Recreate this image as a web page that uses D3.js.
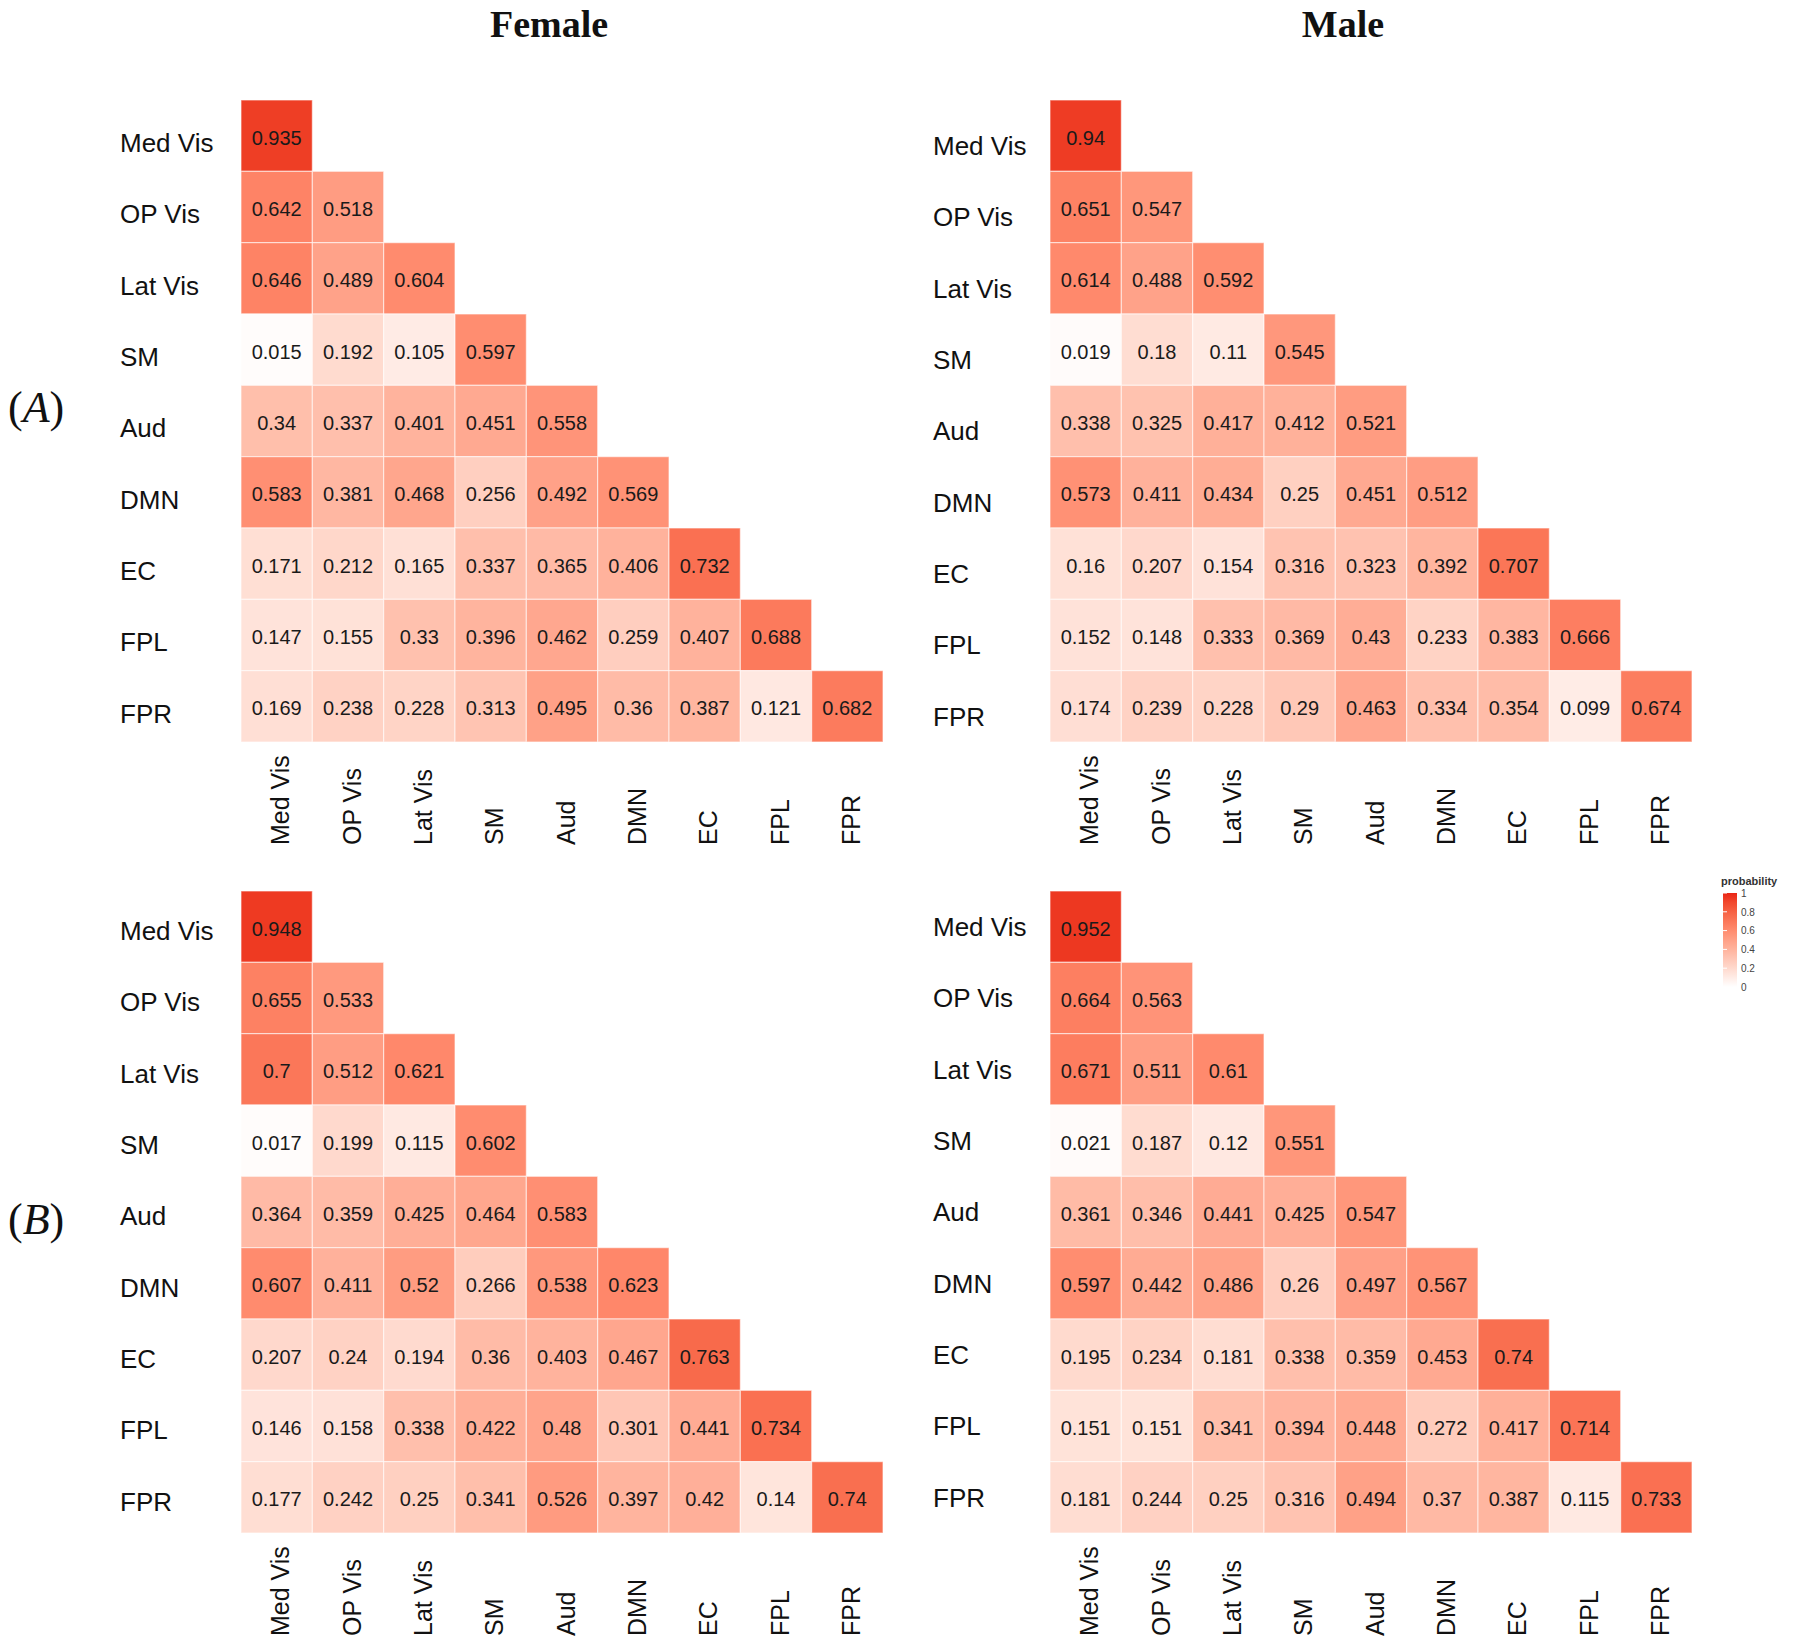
<!DOCTYPE html>
<html>
<head>
<meta charset="utf-8">
<script src="https://cdn.jsdelivr.net/npm/d3@7"></script>
<style>
  body { margin: 0; background: #fff; }
  svg { display: block; }
</style>
</head>
<body>
<script>
var width = 1800, height = 1641;

var networks = ["Med Vis", "OP Vis", "Lat Vis", "SM", "Aud", "DMN", "EC", "FPL", "FPR"];

// lower triangle, row by row (row i has i+1 values)
var femaleA = [
  [0.935],
  [0.642, 0.518],
  [0.646, 0.489, 0.604],
  [0.015, 0.192, 0.105, 0.597],
  [0.34, 0.337, 0.401, 0.451, 0.558],
  [0.583, 0.381, 0.468, 0.256, 0.492, 0.569],
  [0.171, 0.212, 0.165, 0.337, 0.365, 0.406, 0.732],
  [0.147, 0.155, 0.33, 0.396, 0.462, 0.259, 0.407, 0.688],
  [0.169, 0.238, 0.228, 0.313, 0.495, 0.36, 0.387, 0.121, 0.682]
];

var maleA = [
  [0.94],
  [0.651, 0.547],
  [0.614, 0.488, 0.592],
  [0.019, 0.18, 0.11, 0.545],
  [0.338, 0.325, 0.417, 0.412, 0.521],
  [0.573, 0.411, 0.434, 0.25, 0.451, 0.512],
  [0.16, 0.207, 0.154, 0.316, 0.323, 0.392, 0.707],
  [0.152, 0.148, 0.333, 0.369, 0.43, 0.233, 0.383, 0.666],
  [0.174, 0.239, 0.228, 0.29, 0.463, 0.334, 0.354, 0.099, 0.674]
];

var femaleB = [
  [0.948],
  [0.655, 0.533],
  [0.7, 0.512, 0.621],
  [0.017, 0.199, 0.115, 0.602],
  [0.364, 0.359, 0.425, 0.464, 0.583],
  [0.607, 0.411, 0.52, 0.266, 0.538, 0.623],
  [0.207, 0.24, 0.194, 0.36, 0.403, 0.467, 0.763],
  [0.146, 0.158, 0.338, 0.422, 0.48, 0.301, 0.441, 0.734],
  [0.177, 0.242, 0.25, 0.341, 0.526, 0.397, 0.42, 0.14, 0.74]
];

var maleB = [
  [0.952],
  [0.664, 0.563],
  [0.671, 0.511, 0.61],
  [0.021, 0.187, 0.12, 0.551],
  [0.361, 0.346, 0.441, 0.425, 0.547],
  [0.597, 0.442, 0.486, 0.26, 0.497, 0.567],
  [0.195, 0.234, 0.181, 0.338, 0.359, 0.453, 0.74],
  [0.151, 0.151, 0.341, 0.394, 0.448, 0.272, 0.417, 0.714],
  [0.181, 0.244, 0.25, 0.316, 0.494, 0.37, 0.387, 0.115, 0.733]
];

var columnTitles = ["Female", "Male"];
var rowTitles = ["A", "B"];
var legendTicks = [0, 0.2, 0.4, 0.6, 0.8, 1];

var svg = d3.select("body").append("svg")
    .attr("width", width)
    .attr("height", height);

var color = d3.scaleLinear()
    .domain([0, 1])
    .range(["#ffffff", "#ea2616"])
    .interpolate(d3.interpolateLab);

var gridSize = 642;

var panels = [
  {values: femaleA, x: 241, y: 100, labelX: 120, labelDy: 8},
  {values: maleA, x: 1050, y: 100, labelX: 933, labelDy: 11},
  {values: femaleB, x: 241, y: 891, labelX: 120, labelDy: 5},
  {values: maleB, x: 1050, y: 891, labelX: 933, labelDy: 1}
];

panels.forEach(function(p) {
    var x = d3.scaleBand().domain(networks).range([0, gridSize]);
    var y = d3.scaleBand().domain(networks).range([0, gridSize]);

    var g = svg.append("g")
        .attr("transform", "translate(" + p.x + "," + p.y + ")");

    var cells = [];
    p.values.forEach(function(row, i) {
        row.forEach(function(v, j) {
            cells.push({row: networks[i], col: networks[j], value: v});
        });
    });

    g.selectAll(".cell")
        .data(cells)
        .enter()
        .append("rect")
        .attr("class", "cell")
        .attr("x", function(d) { return x(d.col); })
        .attr("y", function(d) { return y(d.row); })
        .attr("width", x.bandwidth())
        .attr("height", y.bandwidth())
        .attr("fill", function(d) { return color(d.value); })
        .attr("stroke", "rgba(255,255,255,0.55)")
        .attr("stroke-width", 1.2);

    g.selectAll(".val")
        .data(cells)
        .enter()
        .append("text")
        .attr("class", "val")
        .attr("x", function(d) { return x(d.col) + x.bandwidth() / 2; })
        .attr("y", function(d) { return y(d.row) + y.bandwidth() / 2 + 2; })
        .attr("dy", "0.35em")
        .attr("text-anchor", "middle")
        .style("font-family", "'Liberation Sans', Arial, sans-serif")
        .style("font-size", "20px")
        .style("fill", "#1a1a1a")
        .text(function(d) { return String(d.value); });

    // row labels (left aligned)
    var yAxis = g.append("g")
        .call(d3.axisLeft(y).tickSize(0).tickPadding(0));
    yAxis.select(".domain").remove();
    yAxis.selectAll("text")
        .attr("x", p.labelX - p.x)
        .attr("y", p.labelDy)
        .attr("text-anchor", "start")
        .style("font-family", "'Liberation Sans', Arial, sans-serif")
        .style("font-size", "26px")
        .style("fill", "#111");

    // column labels (vertical)
    var xAxis = g.append("g")
        .attr("transform", "translate(0," + gridSize + ")")
        .call(d3.axisBottom(x).tickSize(0).tickPadding(0));
    xAxis.select(".domain").remove();
    xAxis.selectAll("text")
        .attr("x", 0)
        .attr("y", 0)
        .attr("dy", "0.35em")
        .attr("transform", "translate(4,103) rotate(-90)")
        .attr("text-anchor", "start")
        .style("font-family", "'Liberation Sans', Arial, sans-serif")
        .style("font-size", "25px")
        .style("fill", "#111");
});

// column titles
svg.selectAll(".coltitle")
    .data(columnTitles)
    .enter()
    .append("text")
    .attr("class", "coltitle")
    .attr("x", function(d, i) { return i === 0 ? 549 : 1343; })
    .attr("y", 37)
    .attr("text-anchor", "middle")
    .style("font-family", "'Liberation Serif', 'Times New Roman', serif")
    .style("font-weight", "bold")
    .style("font-size", "38px")
    .style("fill", "#111")
    .text(function(d) { return d; });

// (A) / (B) row tags
var tags = svg.selectAll(".rowtag")
    .data(rowTitles)
    .enter()
    .append("text")
    .attr("class", "rowtag")
    .attr("x", 8)
    .attr("y", function(d, i) { return i === 0 ? 422 : 1234; })
    .style("font-family", "'Liberation Serif', 'Times New Roman', serif")
    .style("font-size", "44px")
    .style("fill", "#111");
tags.append("tspan").text("(");
tags.append("tspan").style("font-style", "italic").text(function(d) { return d; });
tags.append("tspan").text(")");

// legend
var legendScale = d3.scaleLinear().domain([0, 1]).range([987, 893]);
var defs = svg.append("defs");
var grad = defs.append("linearGradient")
    .attr("id", "probgrad")
    .attr("x1", 0).attr("y1", 1).attr("x2", 0).attr("y2", 0);
d3.range(0, 1.0001, 0.1).forEach(function(t) {
    grad.append("stop")
        .attr("offset", t)
        .attr("stop-color", color(t));
});

var legend = svg.append("g");
legend.append("text")
    .attr("x", 1721)
    .attr("y", 885)
    .style("font-family", "'Liberation Sans', Arial, sans-serif")
    .style("font-size", "11px")
    .style("font-weight", "bold")
    .style("fill", "#333")
    .text("probability");

legend.append("rect")
    .attr("x", 1723)
    .attr("y", legendScale(1))
    .attr("width", 14)
    .attr("height", legendScale(0) - legendScale(1))
    .attr("fill", "url(#probgrad)");

legend.selectAll(".ltick")
    .data(legendTicks)
    .enter()
    .append("line")
    .attr("class", "ltick")
    .attr("x1", 1723).attr("x2", 1727)
    .attr("y1", function(d) { return legendScale(d); })
    .attr("y2", function(d) { return legendScale(d); })
    .attr("stroke", "#fff")
    .attr("stroke-width", 1);

var legendAxis = legend.append("g")
    .attr("transform", "translate(1737,0)")
    .call(d3.axisRight(legendScale).tickValues(legendTicks).tickSize(0).tickPadding(4)
        .tickFormat(function(d) { return String(d); }));
legendAxis.select(".domain").remove();
legendAxis.selectAll("text")
    .style("font-family", "'Liberation Sans', Arial, sans-serif")
    .style("font-size", "10px")
    .style("fill", "#444");
</script>
</body>
</html>
